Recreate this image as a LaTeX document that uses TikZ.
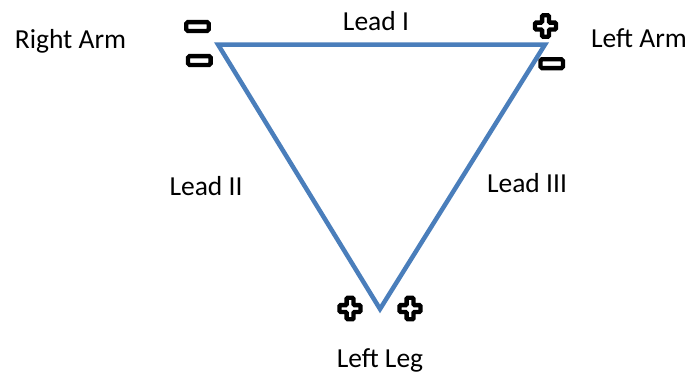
\documentclass[tikz,border=0pt]{standalone}
\usepackage{fontspec}
\setmainfont{Carlito}
\definecolor{leadblue}{RGB}{74,126,187}
\begin{document}
\begin{tikzpicture}[x=1pt,y=-1pt,
  lbl/.style={font=\fontsize{27.5}{32}\selectfont, anchor=base, inner sep=0pt, text=black},
  lead/.style={draw=leadblue, line width=4.5pt, line join=miter},
  plussign/.pic={\draw[line width=4.3pt, fill=white, rounded corners=1pt]
      (-3.4,-10.8) -- (3.4,-10.8) -- (3.4,-3.4) -- (10.5,-3.4) -- (10.5,3.4) -- (3.4,3.4)
      -- (3.4,10.8) -- (-3.4,10.8) -- (-3.4,3.4) -- (-10.5,3.4) -- (-10.5,-3.4) -- (-3.4,-3.4) -- cycle;},
  minussign/.pic={\draw[line width=4.3pt, fill=white, rounded corners=1.5pt]
      (-11.3,-4.4) rectangle (11.3,4.4);}
]
\useasboundingbox (0,0) rectangle (693,375);

% vertices
\coordinate (RA) at (218,44.5);
\coordinate (LA) at (545,44.5);
\coordinate (LL) at (380,309);

\draw[lead] (RA) -- (LA) -- (LL) -- cycle;

% labels
\node[lbl] (ra) at (70.5,48) {Right Arm};
\node[lbl] (la) at (639,47) {Left Arm};
\node[lbl] (ll) at (380,367) {Left Leg};
\node[lbl] (l1) at (376,30) {Lead I};
\node[lbl] (l2) at (206,195) {Lead II};
\node[lbl] (l3) at (527,192) {Lead III};

% polarity signs
\pic at (197.5,26.5) {minussign};
\pic at (199.3,60.5) {minussign};
\pic at (545.5,26) {plussign};
\pic at (551.7,63.7) {minussign};
\pic at (350,308.5) {plussign};
\pic at (410,308.5) {plussign};
\end{tikzpicture}
\end{document}
